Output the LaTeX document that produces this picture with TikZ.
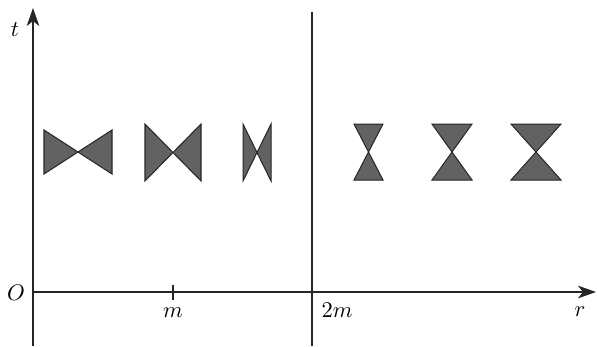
\documentclass[tikz,border=0pt]{standalone}
\usetikzlibrary{arrows.meta}
\definecolor{conefill}{HTML}{626262}
\begin{document}
\begin{tikzpicture}[x=0.4444pt,y=-0.4444pt,
  axis/.style={line width=0.85pt,draw=black!85},
  tip/.style={-{Stealth[length=8pt,width=5.6pt,inset=2.2pt]}},
  cone/.style={fill=conefill,draw=black!85,line width=0.45pt,line join=miter},
  lab/.style={inner sep=0pt,font=\normalsize}]
\useasboundingbox (0,0) rectangle (597,346);
% axes
\coordinate (tb) at (33,346);
\coordinate (tt) at (33,8);
\coordinate (o) at (33,292);
\coordinate (re) at (596,292);
\coordinate (hb) at (312,346);
\coordinate (ht) at (312,12);
\draw[axis,tip] (tb) -- (tt);
\draw[axis,tip] (o) -- (re);
\draw[axis] (hb) -- (ht);
\coordinate (m1) at (173,285);
\coordinate (m2) at (173,300);
\draw[line width=0.6pt,draw=black!85] (m1) -- (m2);
% labels
\node[lab] (lt) at (15,30) {$t$};
\node[lab] (lO) at (16,293) {$O$};
\node[lab] (lm) at (173,313) {$m$};
\node[lab] (l2m) at (337,310) {$2m$};
\node[lab] (lr) at (580,312) {$r$};
% horizontal bowties
\draw[cone] (44,130) -- (112,174) -- (112,130) -- (44,174) -- cycle;
\draw[cone] (145,124) -- (201,181) -- (201,124) -- (145,181) -- cycle;
\draw[cone] (243,124) -- (271,181) -- (271,124) -- (243,181) -- cycle;
% vertical hourglasses
\draw[cone] (354,124) -- (383,124) -- (354,180) -- (383,180) -- cycle;
\draw[cone] (432,124) -- (472,124) -- (432,180) -- (472,180) -- cycle;
\draw[cone] (511,124) -- (561,124) -- (511,180) -- (561,180) -- cycle;
\end{tikzpicture}
\end{document}
